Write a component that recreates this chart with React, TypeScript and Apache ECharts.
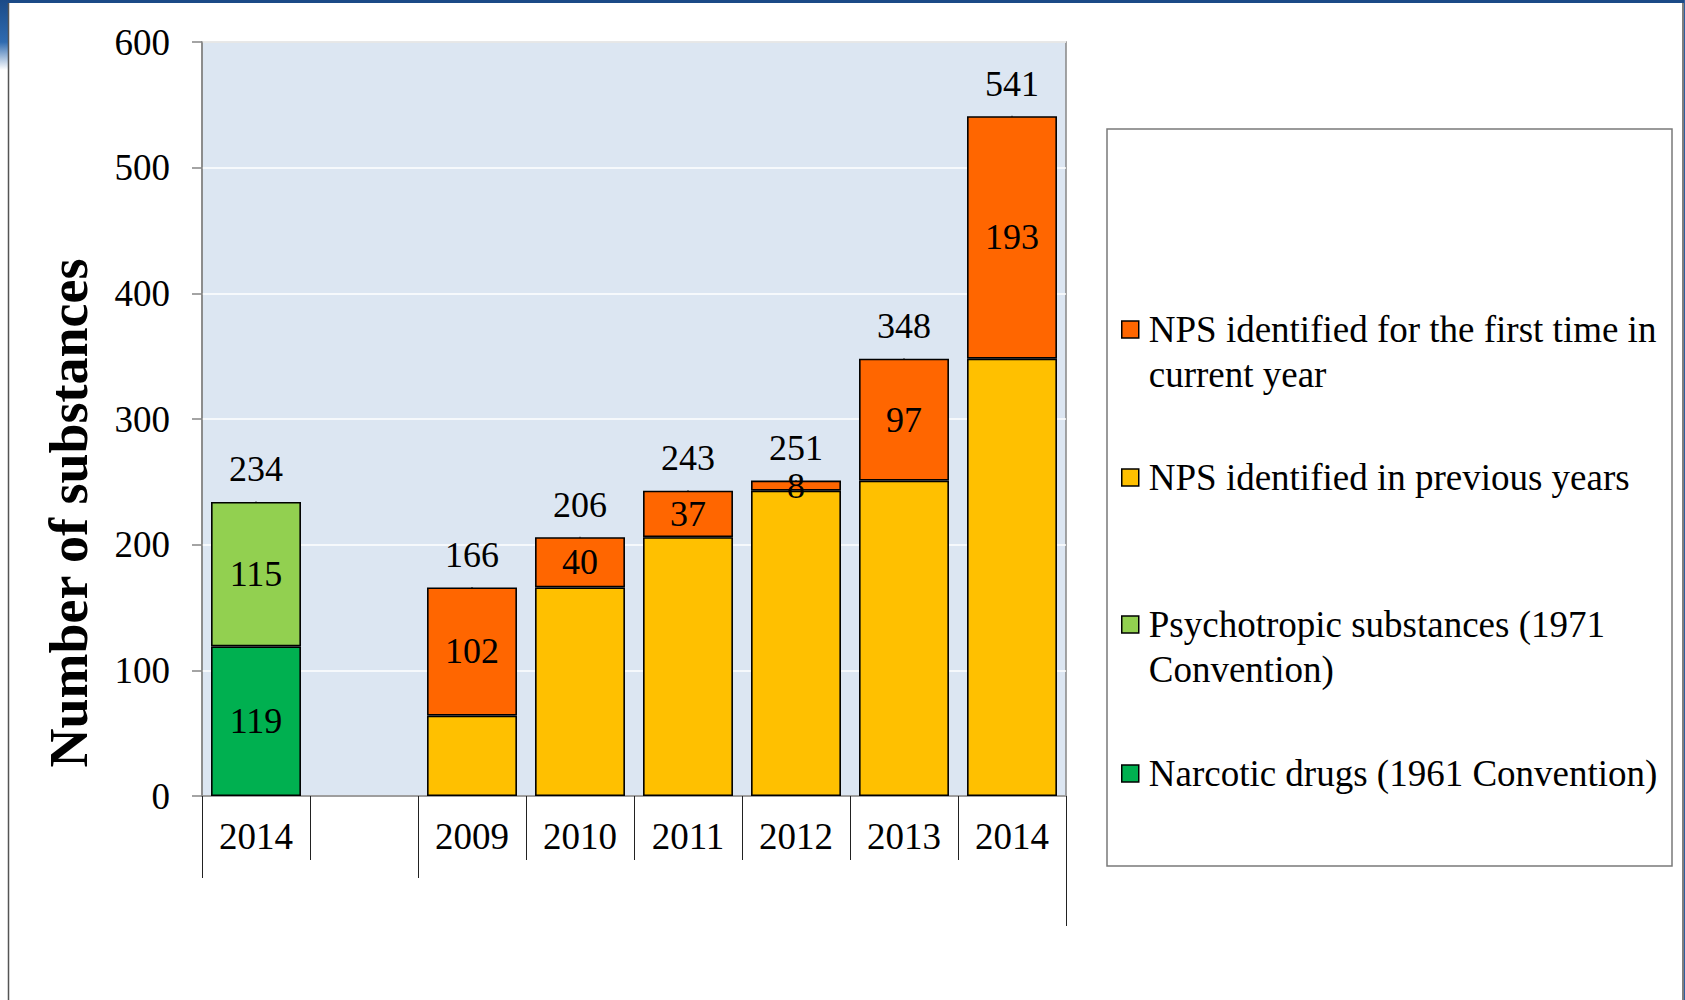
import React, { useEffect, useRef } from "react";
import * as echarts from "echarts";

const categories = ["2014", "", "2009", "2010", "2011", "2012", "2013", "2014"];
const narcoticDrugs = [119, null, null, null, null, null, null, null];
const psychotropic = [115, null, null, null, null, null, null, null];
const npsPrevious = [null, null, 64, 166, 206, 243, 251, 348];
const npsFirstTime = [null, null, 102, 40, 37, 8, 97, 193];
const totals = [234, null, 166, 206, 243, 251, 348, 541];

const yMin = 0;
const yMax = 600;
const yInterval = 100;

const S_FIRST = "NPS identified for the first time in current year";
const S_PREV = "NPS identified in previous years";
const S_PSY = "Psychotropic substances (1971 Convention)";
const S_NARC = "Narcotic drugs (1961 Convention)";

// Two-line entries get an empty leading line so that the icon lines up with the first text line.
const legendLabels: Record<string, string> = {
  [S_FIRST]: "\nNPS identified for the first time in\ncurrent year",
  [S_PREV]: S_PREV,
  [S_PSY]: "\nPsychotropic substances (1971\nConvention)",
  [S_NARC]: S_NARC,
};

const FONT = "'Liberation Serif', 'Times New Roman', serif";

export default function App() {
  const ref = useRef<HTMLDivElement>(null);

  useEffect(() => {
    if (!ref.current) return;
    const chart = echarts.init(ref.current, undefined, { renderer: "svg" });

    const labelStyle = {
      fontFamily: FONT,
      fontSize: 36,
      color: "#000000",
      opacity: 1,
    };

    const barBase = {
      type: "bar",
      stack: "total",
      barCategoryGap: "16.7%",
      itemStyle: { borderColor: "#000", borderWidth: 1.6 },
    };

    const mkLegend = (name: string, top: number) => ({
      data: [name],
      orient: "vertical",
      left: 1121,
      top,
      padding: 0,
      itemGap: 0,
      itemWidth: 17,
      itemHeight: 17,
      icon: "rect",
      selectedMode: false,
      itemStyle: { borderColor: "#000", borderWidth: 1.5 },
      formatter: (n: string) => legendLabels[n] || n,
      textStyle: {
        fontFamily: FONT,
        fontSize: 37,
        color: "#000",
        lineHeight: 45,
        padding: [0, 0, 0, 5],
        backgroundColor: "transparent",
      },
    });

    const option: any = {
      animation: false,
      backgroundColor: "#fff",
      grid: {
        left: 202,
        top: 42,
        width: 864,
        height: 754,
        show: true,
        backgroundColor: "#DCE6F2",
        borderColor: "#868686",
        borderWidth: 1.5,
        containLabel: false,
      },
      xAxis: [
        {
          type: "category",
          data: categories,
          position: "bottom",
          axisLine: { show: true, lineStyle: { color: "#868686", width: 1.5 } },
          axisTick: {
            show: true,
            interval: 0,
            length: 64,
            lineStyle: { color: "#222", width: 1 },
          },
          axisLabel: {
            interval: 0,
            margin: 22,
            fontFamily: FONT,
            fontSize: 37,
            color: "#000",
          },
          splitLine: { show: false },
        },
        {
          type: "value",
          min: 0,
          max: 8,
          position: "bottom",
          axisLine: { show: false },
          axisTick: {
            show: true,
            customValues: [0, 2],
            length: 82,
            lineStyle: { color: "#222", width: 1 },
          },
          axisLabel: { show: false },
          splitLine: { show: false },
        },
        {
          type: "value",
          min: 0,
          max: 8,
          position: "bottom",
          axisLine: { show: false },
          axisTick: {
            show: true,
            customValues: [8],
            length: 130,
            lineStyle: { color: "#222", width: 1 },
          },
          axisLabel: { show: false },
          splitLine: { show: false },
        },
      ],
      yAxis: {
        type: "value",
        min: yMin,
        max: yMax,
        interval: yInterval,
        axisLine: { show: true, lineStyle: { color: "#868686", width: 1.5 } },
        axisTick: { show: true, length: 10, lineStyle: { color: "#868686", width: 1.5 } },
        axisLabel: {
          margin: 32,
          fontFamily: FONT,
          fontSize: 37,
          color: "#000",
        },
        splitLine: { show: true, lineStyle: { color: "#ffffff", width: 1.5 } },
      },
      legend: [
        mkLegend(S_FIRST, 262),
        mkLegend(S_PREV, 455),
        mkLegend(S_PSY, 557),
        mkLegend(S_NARC, 751),
      ],
      series: [
        {
          ...barBase,
          name: S_NARC,
          data: narcoticDrugs,
          itemStyle: { ...barBase.itemStyle, color: "#00B050" },
          label: { show: true, position: "inside", ...labelStyle },
        },
        {
          ...barBase,
          name: S_PSY,
          data: psychotropic,
          itemStyle: { ...barBase.itemStyle, color: "#92D050" },
          label: { show: true, position: "inside", ...labelStyle },
        },
        {
          ...barBase,
          name: S_PREV,
          data: npsPrevious,
          itemStyle: { ...barBase.itemStyle, color: "#FFC000" },
          label: { show: false },
        },
        {
          ...barBase,
          name: S_FIRST,
          data: npsFirstTime,
          itemStyle: { ...barBase.itemStyle, color: "#FF6600" },
          label: { show: true, position: "inside", ...labelStyle },
        },
        {
          type: "scatter",
          name: "Total",
          data: totals,
          symbol: "rect",
          symbolSize: 1,
          itemStyle: { color: "#000000", opacity: 1 },
          label: { show: true, position: "top", distance: 14, ...labelStyle },
          z: 5,
        },
      ],
      graphic: [
        {
          type: "rect",
          shape: { x: 0, y: 0, width: 1685, height: 3 },
          style: { fill: "#1B4A87" },
          silent: true,
        },
        {
          type: "rect",
          shape: { x: 0, y: 0, width: 8, height: 70 },
          style: {
            fill: new echarts.graphic.LinearGradient(0, 0, 0, 1, [
              { offset: 0, color: "#1B4A87" },
              { offset: 0.6, color: "#2F6BB0" },
              { offset: 1, color: "#ffffff" },
            ]),
          },
          silent: true,
        },
        {
          type: "rect",
          shape: { x: 1684, y: 0, width: 1, height: 1000 },
          style: { fill: "#2F5E9E" },
          silent: true,
        },
        {
          type: "line",
          shape: { x1: 8.5, y1: 3, x2: 8.5, y2: 1000 },
          style: { stroke: "#555", lineWidth: 1.5 },
          silent: true,
        },
        {
          type: "line",
          shape: { x1: 1683, y1: 3, x2: 1683, y2: 1000 },
          style: { stroke: "#555", lineWidth: 1.5 },
          silent: true,
        },
        {
          type: "rect",
          shape: { x: 1107, y: 129, width: 565, height: 737 },
          style: { fill: "#fff", stroke: "#7a7a7a", lineWidth: 1.5 },
          z: -1,
          silent: true,
        },
        {
          type: "text",
          x: 69,
          y: 513,
          rotation: Math.PI / 2,
          style: {
            text: "Number of substances",
            font: `bold 54px ${FONT}`,
            fill: "#000",
            align: "center",
            verticalAlign: "middle",
          },
          silent: true,
        },
      ],
    };

    chart.setOption(option);
    return () => chart.dispose();
  }, []);

  return (
    <div
      ref={ref}
      style={{ position: "fixed", left: 0, top: 0, width: 1685, height: 1000, background: "#fff" }}
    />
  );
}
